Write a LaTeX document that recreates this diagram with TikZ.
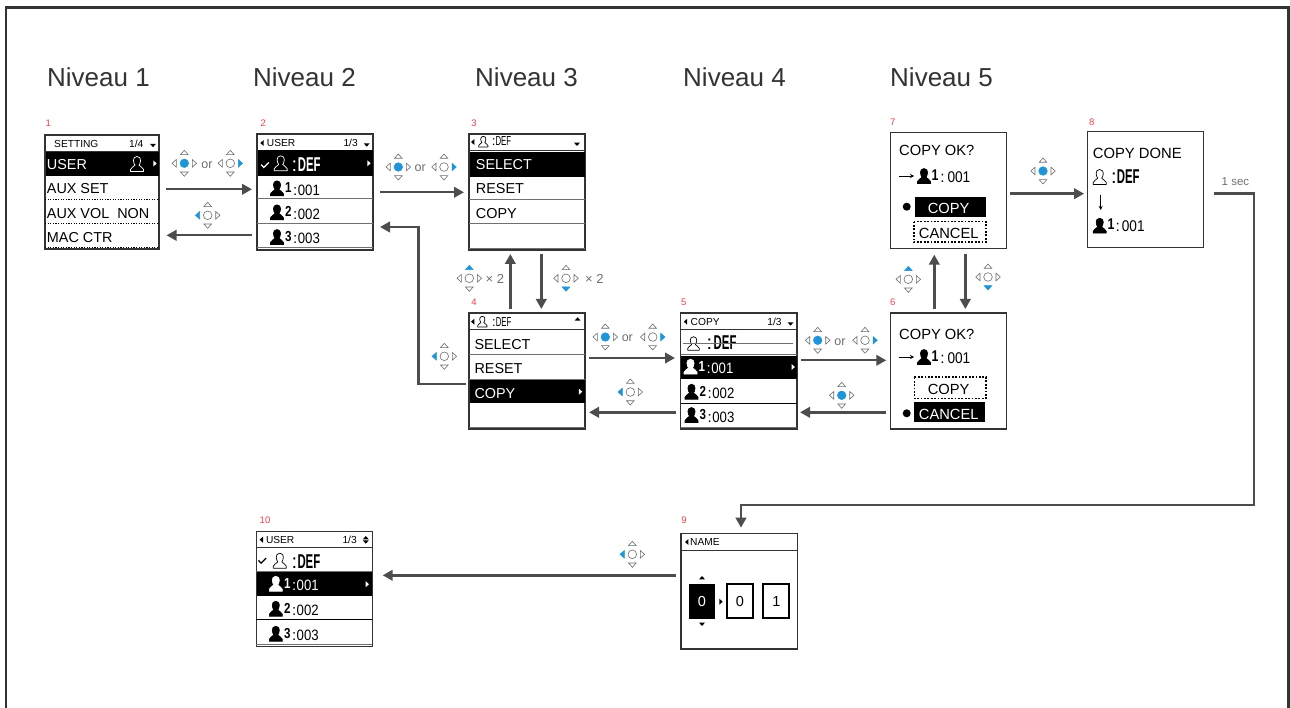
\documentclass[tikz,border=0pt]{standalone}
\usepackage{fontspec}
\usepackage{graphicx}
\setmainfont{Liberation Sans}
\usetikzlibrary{arrows.meta}
\definecolor{framec}{HTML}{333333}
\definecolor{arrc}{HTML}{4D4D4D}
\definecolor{padg}{HTML}{6D6E71}
\definecolor{padb}{HTML}{1F95D8}
\definecolor{redn}{HTML}{EE3E4A}
\definecolor{divg}{HTML}{707070}
\newcommand{\fsz}[1]{\fontsize{#1}{#1}\selectfont}
\newcommand{\defbig}{\scalebox{0.57}[1]{\bfseries DEF}}
\newcommand{\nrw}[1]{\scalebox{0.88}[1]{#1}}
\def\personpath{(0,-7.5) .. controls (-2.6,-7.5) and (-3.6,-5.5) .. (-3.6,-3.5) .. controls (-3.6,-1) and (-2.5,.3) .. (-2,1.2) .. controls (-3,3) and (-6.5,3.5) .. (-6.5,5.5) -- (-6.5,7.5) -- (6.5,7.5) -- (6.5,5.5) .. controls (6.5,3.5) and (3,3) .. (2,1.2) .. controls (2.5,.3) and (3.6,-1) .. (3.6,-3.5) .. controls (3.6,-5.5) and (2.6,-7.5) .. (0,-7.5) -- cycle}
\tikzset{
  padon/.style={fill=padb,draw=padb,line width=.5},
  padoff/.style={fill=white,draw=padg,line width=.6},
  pics/pad/.style={code={
    \tikzset{padu/.style={padoff},padd/.style={padoff},padl/.style={padoff},padr/.style={padoff},padc/.style={padoff},pad#1/.style={padon}}
    \draw[padc] (0,0) circle (4.3);
    \draw[padu] (-3.8,-8.7) -- (3.8,-8.7) -- (0,-13) -- cycle;
    \draw[padd] (-3.8,8.7) -- (3.8,8.7) -- (0,13) -- cycle;
    \draw[padl] (-8,-3.8) -- (-8,3.8) -- (-12.3,0) -- cycle;
    \draw[padr] (8,-3.8) -- (8,3.8) -- (12.3,0) -- cycle;
  }},
  pics/pf/.style={code={\fill[#1] \personpath; \draw[#1,line width=.6] \personpath;}},
  pics/po/.style={code={\draw[#1,line width=.7,line join=round] \personpath;}},
  pics/triu/.style={code={\fill[#1] (-3,1.7) -- (3,1.7) -- (0,-1.7) -- cycle;}},
  pics/trid/.style={code={\fill[#1] (-3,-1.7) -- (3,-1.7) -- (0,1.7) -- cycle;}},
  pics/tril/.style={code={\fill[#1] (1.7,-3) -- (1.7,3) -- (-1.7,0) -- cycle;}},
  pics/trir/.style={code={\fill[#1] (-1.7,-3) -- (-1.7,3) -- (1.7,0) -- cycle;}},
  pics/chk/.style={code={\draw[#1,line width=1.3] (-3.8,-.3) -- (-1.2,2.4) -- (3.8,-2.6);}},
  scr/.style={draw=framec,line width=1.2,fill=white,inner sep=0,outer sep=0,anchor=north west},
  arr/.style={draw=arrc,line width=2.4,-{Triangle[length=10pt,width=10.5pt]}},
  tx/.style={inner sep=0,anchor=base west,text=black},
  tc/.style={inner sep=0,anchor=base,text=black},
  hdr/.style={tx,font=\fsz{10.2}},
  itm/.style={tx,font=\fsz{14.4}},
  dig/.style={tx,font=\fsz{15}},
  nsup/.style={tx,font=\fsz{14.5}\bfseries},
  lev/.style={tx,font=\fsz{26},text=framec},
  num/.style={inner sep=0,text=redn,font=\fsz{9.5}},
  orl/.style={inner sep=0,text=padg,font=\fsz{12.5}},
  hl/.style={draw=framec,line width=1},
  gl/.style={draw=divg,line width=1},
  dl/.style={draw=black,line width=.9,dash pattern=on 1.2pt off 1.4pt},
  dotbox/.style={draw=black,line width=1.6,dash pattern=on 1.8pt off 1.6pt},
  digbox/.style={draw=black,line width=2,fill=white,inner sep=0,outer sep=0,minimum width=26,minimum height=34,anchor=north west,font=\fsz{14.5}},
}
\newcommand{\urow}[5]{%
  \pic at (#2,#3) {pf=#5};
  \node[nsup,text=#5] (#1n) at ({#2+8},{#3+4.5}) {\scalebox{0.8}[1]{#4}};
  \node[dig,text=#5] (#1c) at ({#2+16},{#3+7}) {:};
  \node[dig,text=#5] (#1v) at ({#2+20.7},{#3+7}) {\nrw{00#4}};
}
\newcommand{\okpart}[3]{%
  \node[itm,font=\fsz{14.7}] (#1a) at (8.3,#2) {COPY OK?};
  \draw[line width=.8,-{Stealth[length=4pt,width=4pt]}] (8.3,#3) -- (23.3,#3);
  \pic at (33.3,#3) {pf=black};
  \node[nsup,font=\fsz{15.5}\bfseries] (#1b) at (40.7,{#3+4.5}) {\scalebox{0.8}[1]{1}};
  \node[dig,font=\fsz{15.5}] (#1c) at (49.5,{#3+6.5}) {:};
  \node[dig,font=\fsz{15.5}] (#1d) at (56.6,{#3+6.5}) {\nrw{001}};
}
\begin{document}
\begin{tikzpicture}[x=1pt,y=-1pt]
\useasboundingbox (0,0) rectangle (1290,708);
\draw[draw=framec,line width=2.4] (6,712) -- (6,7.4) -- (1288.6,7.4) -- (1288.6,712);
% level titles
\node[lev] (l1) at (47,87) {Niveau 1};
\node[lev] (l2) at (253,87) {Niveau 2};
\node[lev] (l3) at (475,87) {Niveau 3};
\node[lev] (l4) at (683,87) {Niveau 4};
\node[lev] (l5) at (890,87) {Niveau 5};
% screens
\node[scr,minimum width=114,minimum height=114] (s1) at (45,135) {};
\node[scr,minimum width=116,minimum height=116] (s2) at (257,134) {};
\node[scr,minimum width=116,minimum height=116] (s3) at (469,134) {};
\node[scr,minimum width=116,minimum height=116] (s4) at (469,313) {};
\node[scr,minimum width=116.5,minimum height=116] (s5) at (680.5,313) {};
\node[scr,minimum width=116,minimum height=116] (s6) at (890.7,313) {};
\node[scr,minimum width=116,minimum height=116] (s7) at (890.7,132.7) {};
\node[scr,minimum width=116,minimum height=116] (s8) at (1087.3,131.7) {};
\node[scr,minimum width=116.3,minimum height=115.7] (s9) at (681,533.3) {};
\node[scr,minimum width=116,minimum height=115] (s10) at (256.3,531.7) {};
% red numbers
\node[num] (n1) at (48.3,123.3) {1};
\node[num] (n2) at (263.3,123.3) {2};
\node[num] (n3) at (474,123.7) {3};
\node[num] (n4) at (474,302) {4};
\node[num] (n5) at (683.7,302) {5};
\node[num] (n6) at (892.7,302) {6};
\node[num] (n7) at (892.7,122) {7};
\node[num] (n8) at (1091.7,122) {8};
\node[num] (n9) at (684,520.5) {9};
\node[num] (n10) at (265,520) {10};
% screen 1
\begin{scope}[shift={(s1.north west)}]
  \node[hdr] (s1h) at (9,12.5) {SETTING};
  \node[hdr] (s1p) at (84,12.5) {1/4};
  \pic at (108,10.5) {trid=black};
  \draw[hl] (0,16.5) -- (114,16.5);
  \fill[black] (0.5,17.5) rectangle (113.5,41.5);
  \node[itm,text=white] (s1a) at (1.7,35) {USER};
  \pic at (92,29) {po=white};
  \pic at (110,28.5) {trir=white};
  \node[itm] (s1b) at (1.7,59) {AUX SET};
  \draw[dl] (0,64.5) -- (114,64.5);
  \node[itm] (s1c) at (1.7,84) {AUX VOL\ \ NON};
  \draw[dl] (0,88.5) -- (114,88.5);
  \node[itm] (s1d) at (1.7,108) {MAC CTR};
  \draw[dl] (0,112.5) -- (114,112.5);
\end{scope}
% screen 2
\begin{scope}[shift={(s2.north west)}]
  \pic at (5,9) {tril=black};
  \node[hdr] (s2h) at (9.7,12.7) {USER};
  \node[hdr] (s2p) at (86.3,12.7) {1/3};
  \pic at (109.7,11) {trid=black};
  \draw[hl] (0,16.5) -- (116,16.5);
  \fill[black] (0.5,16.5) rectangle (115.5,41.7);
  \pic at (8,31) {chk=white};
  \pic at (23.7,29.3) {po=white};
  \node[dig,font=\fsz{20},text=white] (s2c) at (34.5,37.3) {:};
  \node[tx,font=\fsz{20},text=white] (s2d) at (40.7,37.3) {\defbig};
  \pic at (112,29.3) {trir=white};
  \urow{s2r1}{20}{54.3}{1}{black}
  \draw[gl] (0,65) -- (116,65);
  \urow{s2r2}{20}{78.3}{2}{black}
  \draw[gl] (0,90) -- (116,90);
  \urow{s2r3}{20}{103}{3}{black}
  \draw[gl] (0,114) -- (116,114);
\end{scope}
% screen 3
\begin{scope}[shift={(s3.north west)}]
  \pic at (3.7,8) {tril=black};
  \pic[scale=.72] at (14.3,7.7) {po=black};
  \node[tx,font=\fsz{13}] (s3d) at (22.7,11.7) {:\scalebox{0.6}[1]{DEF}};
  \pic at (108,10.3) {trid=black};
  \draw[hl] (0,17) -- (116,17);
  \fill[black] (0.5,18.3) rectangle (115.5,42.7);
  \node[itm,text=white] (s3a) at (6.7,35.3) {SELECT};
  \node[itm] (s3b) at (6.7,59.3) {RESET};
  \draw[gl] (0,65.3) -- (116,65.3);
  \node[itm] (s3c) at (6.7,84.3) {COPY};
  \draw[gl] (0,89.7) -- (116,89.7);
  \draw[gl] (0,114.3) -- (116,114.3);
\end{scope}
% screen 4
\begin{scope}[shift={(s4.north west)}]
  \pic at (3.7,8.7) {tril=black};
  \pic[scale=.72] at (13.3,8.7) {po=black};
  \node[tx,font=\fsz{13}] (s4d) at (23,13.7) {:\scalebox{0.6}[1]{DEF}};
  \pic at (108.6,6) {triu=black};
  \draw[hl] (0,16.3) -- (116,16.3);
  \node[itm] (s4a) at (5.3,36) {SELECT};
  \draw[gl] (0,42) -- (116,42);
  \node[itm] (s4b) at (5.3,60.7) {RESET};
  \draw[gl] (0,66.3) -- (116,66.3);
  \fill[black] (0.5,67) rectangle (115.5,90.3);
  \node[itm,text=white] (s4c) at (5.3,85.3) {COPY};
  \pic at (111.6,78.7) {trir=white};
  \draw[gl] (0,114.3) -- (116,114.3);
\end{scope}
% screen 5
\begin{scope}[shift={(s5.north west)}]
  \pic at (5,8.7) {tril=black};
  \node[hdr] (s5h) at (10,13) {COPY};
  \node[hdr] (s5p) at (86.7,13) {1/3};
  \pic at (110,11) {trid=black};
  \draw[hl] (0,16.5) -- (116.5,16.5);
  \pic[scale=.9] at (13,30.5) {po=black};
  \node[dig,font=\fsz{20}] (s5c) at (26,37) {:};
  \node[tx,font=\fsz{20}] (s5d) at (33,37) {\defbig};
  \draw[draw=divg,line width=1] (2.5,30.7) -- (112.5,30.7);
  \draw[gl] (0,42) -- (116.5,42);
  \fill[black] (0.5,42.7) rectangle (116,66.3);
  \urow{s5r1}{10}{53.7}{1}{white}
  \pic at (112.7,54) {trir=white};
  \urow{s5r2}{11}{78.7}{2}{black}
  \draw[draw=black,line width=.7] (0,90.3) -- (116.5,90.3);
  \urow{s5r3}{11}{102}{3}{black}
  \draw[gl] (0,114.3) -- (116.5,114.3);
\end{scope}
% screen 6
\begin{scope}[shift={(s6.north west)}]
  \okpart{s6t}{26.3}{44}
  \draw[dotbox] (23.6,64.3) rectangle (95.3,85.3);
  \node[tc,font=\fsz{14.7}] (s6a) at (58,81) {COPY};
  \fill[black] (16,100.3) circle (4);
  \fill[black] (23.3,89.3) rectangle (94.3,109);
  \node[tc,font=\fsz{14.7},text=white] (s6b) at (58,106.3) {CANCEL};
\end{scope}
% screen 7
\begin{scope}[shift={(s7.north west)}]
  \okpart{s7t}{23.3}{43.3}
  \fill[black] (16,74) circle (4);
  \fill[black] (24.3,64.6) rectangle (95,84);
  \node[tc,font=\fsz{14.7},text=white] (s7a) at (58,81.3) {COPY};
  \draw[dotbox] (23,89) rectangle (95,109.6);
  \node[tc,font=\fsz{14.7}] (s7b) at (58,105.6) {CANCEL};
\end{scope}
% screen 8
\begin{scope}[shift={(s8.north west)}]
  \node[itm,font=\fsz{14.8}] (s8a) at (5.4,26.6) {COPY DONE};
  \pic at (12.4,45.3) {po=black};
  \node[dig,font=\fsz{20}] (s8c) at (23.5,52.3) {:};
  \node[tx,font=\fsz{20}] (s8d) at (29.4,52.3) {\defbig};
  \draw[line width=.8,-{Stealth[length=4pt,width=4pt]}] (13.4,63.3) -- (13.4,78.3);
  \pic at (12.4,94) {pf=black};
  \node[nsup,font=\fsz{15.5}\bfseries] (s8n) at (20,98.3) {\scalebox{0.8}[1]{1}};
  \node[dig,font=\fsz{15.5}] (s8e) at (28,100) {:};
  \node[dig,font=\fsz{15.5}] (s8f) at (34.4,100) {\nrw{001}};
\end{scope}
% screen 9
\begin{scope}[shift={(s9.north west)}]
  \pic at (5.7,8.7) {tril=black};
  \node[hdr] (s9h) at (9,12.4) {NAME};
  \draw[hl] (0,17.4) -- (116.3,17.4);
  \pic at (21,44.4) {triu=black};
  \pic at (21,91) {trid=black};
  \node[fill=black,text=white,inner sep=0,minimum width=26.7,minimum height=35,anchor=north west,font=\fsz{14.5}] (s9a) at (7.3,50.7) {0};
  \pic at (40,68.4) {trir=black};
  \node[digbox] (s9b) at (45.8,51) {0};
  \node[digbox] (s9c) at (82.4,51) {1};
\end{scope}
% screen 10
\begin{scope}[shift={(s10.north west)}]
  \pic at (5,8) {tril=black};
  \node[hdr] (s10h) at (9.5,11.3) {USER};
  \node[hdr] (s10p) at (86,11.3) {1/3};
  \pic at (109.5,6) {triu=black};
  \pic at (109.5,10.3) {trid=black};
  \draw[hl] (0,15.3) -- (116,15.3);
  \pic at (6,29) {chk=black};
  \pic at (23.5,29) {po=black};
  \node[dig,font=\fsz{20}] (s10c) at (35,36.3) {:};
  \node[tx,font=\fsz{20}] (s10d) at (41,36.3) {\defbig};
  \draw[gl] (0,40) -- (116,40);
  \fill[black] (0.5,40.3) rectangle (115.5,64.7);
  \urow{s10r1}{19.5}{52}{1}{white}
  \pic at (111,52.5) {trir=white};
  \urow{s10r2}{19.5}{77}{2}{black}
  \draw[draw=black,line width=.7] (0,88) -- (116,88);
  \urow{s10r3}{19.5}{102}{3}{black}
  \draw[gl] (0,113) -- (116,113);
\end{scope}
% connectors
\draw[arr] ([shift={(7,54.3)}]s1.north east) -- ([shift={(-5,55.3)}]s2.north west);
\draw[arr] ([shift={(-5,101.3)}]s2.north west) -- ([shift={(7.5,100.3)}]s1.north east);
\draw[arr] ([shift={(7,58.3)}]s2.north east) -- ([shift={(-5,58.3)}]s3.north west);
\draw[arr] ([shift={(-3,70.7)}]s4.north west) -- ++(-47.7,0) |- ([shift={(7,93)}]s2.north east);
\draw[arr] ([shift={(41.3,-4)}]s4.north west) -- ([shift={(41.3,4)}]s3.south west);
\draw[arr] ([shift={(72.3,4)}]s3.south west) -- ([shift={(72.3,-4)}]s4.north west);
\draw[arr] ([shift={(4,45)}]s4.north east) -- ([shift={(-5.5,45)}]s5.north west);
\draw[arr] ([shift={(-5,99.3)}]s5.north west) -- ([shift={(4,99.3)}]s4.north east);
\draw[arr] ([shift={(4,47.3)}]s5.north east) -- ([shift={(-4.4,47.3)}]s6.north west);
\draw[arr] ([shift={(-5,99.3)}]s6.north west) -- ([shift={(3,99.3)}]s5.north east);
\draw[arr] ([shift={(43.6,-3.7)}]s6.north west) -- ([shift={(43.6,6)}]s7.south west);
\draw[arr] ([shift={(74.6,5.6)}]s7.south west) -- ([shift={(74.6,-4)}]s6.north west);
\draw[arr] ([shift={(3.3,61)}]s7.north east) -- ([shift={(-3.3,62)}]s8.north west);
\draw[arr] ([shift={(11,62)}]s8.north east) -- ++(39.7,0) -- ++(0,311.3) -| ([shift={(60,-5.6)}]s9.north west);
\draw[arr] ([shift={(-5,42)}]s9.north west) -- ([shift={(10.4,43.6)}]s10.north east);
% controller icons and connector labels
\pic at (184.3,163.3) {pad=c};
\node[orl] (o1) at (207,165) {or};
\pic at (230.3,163.3) {pad=r};
\pic at (207.7,215.3) {pad=l};
\pic at (398.3,167) {pad=c};
\node[orl] (o2) at (420.3,168) {or};
\pic at (444,167) {pad=r};
\pic at (469.3,278.3) {pad=u};
\node[orl,anchor=west,font=\fsz{13}] (x1) at (485.5,279.3) {× 2};
\pic at (566,278.3) {pad=d};
\node[orl,anchor=west,font=\fsz{13}] (x2) at (585,279.3) {× 2};
\pic at (444.3,356.3) {pad=l};
\pic at (605.3,337) {pad=c};
\node[orl] (o3) at (627.3,338) {or};
\pic at (652.7,337) {pad=r};
\pic at (630.3,392) {pad=l};
\pic at (817.7,340.3) {pad=c};
\node[orl] (o4) at (840,342) {or};
\pic at (865,340.3) {pad=r};
\pic at (841.7,395.3) {pad=c};
\pic at (908.3,279.3) {pad=u};
\pic at (988,277) {pad=d};
\pic at (1043,171) {pad=c};
\pic at (632.3,554.3) {pad=l};
\node[orl,anchor=west,font=\fsz{11.5}] (sec) at (1221.5,182) {1 sec};
\end{tikzpicture}
\end{document}
